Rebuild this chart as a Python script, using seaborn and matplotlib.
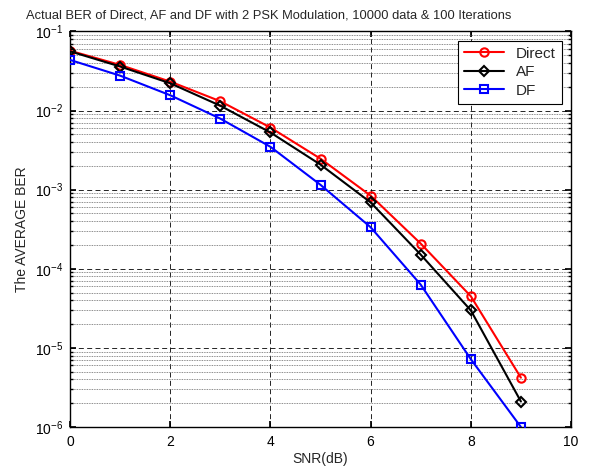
import matplotlib
matplotlib.use("Agg")
import matplotlib.pyplot as plt
import seaborn as sns
import numpy as np
import pandas as pd
from matplotlib.ticker import LogLocator, FixedLocator, NullFormatter

snr = [0, 1, 2, 3, 4, 5, 6, 7, 8, 9]
ber_direct = [0.057, 0.0377, 0.0232, 0.0131, 0.0061, 0.00246, 0.00084, 0.000208, 4.5e-5, 4.2e-6]
ber_af = [0.056, 0.036, 0.0221, 0.0115, 0.00528, 0.00207, 0.00069, 0.000151, 2.98e-5, 2.1e-6]
ber_df = [0.0436, 0.0276, 0.0156, 0.0079, 0.00348, 0.00115, 0.000335, 6.3e-5, 7.2e-6, 1.0e-6]
series_names = ["Direct", "AF", "DF"]
series_colors = ["#ff0000", "#000000", "#0000ff"]
series_markers = ["o", "D", "s"]
title = "Actual BER of Direct, AF and DF with 2 PSK Modulation, 10000 data & 100 Iterations"
xlabel = "SNR(dB)"
ylabel = "The AVERAGE BER"

sns.set_theme(style="ticks")
plt.rcParams["font.family"] = ["Liberation Sans", "DejaVu Sans"]
plt.rcParams["mathtext.default"] = "regular"
plt.rcParams["mathtext.fontset"] = "custom"
plt.rcParams["mathtext.rm"] = "Liberation Sans"

fig = plt.figure(figsize=(6.07, 4.69), dpi=100)
ax = fig.add_axes([70/607, 42/469, 501/607, 395.6/469])

data = [ber_direct, ber_af, ber_df]
for name, vals, c, m in zip(series_names, data, series_colors, series_markers):
    df = pd.DataFrame({"SNR": snr, "BER": vals})
    ms = 6 if m != "D" else 5
    sns.lineplot(data=df, x="SNR", y="BER", ax=ax, color=c, marker=m,
                 markersize=ms, markerfacecolor="none", markeredgecolor=c,
                 markeredgewidth=1.5, linewidth=1.5, label=name, zorder=3)

ax.set_yscale("log")
ax.set_xlim(0, 10)
ax.set_ylim(1e-6, 1e-1)
ax.xaxis.set_major_locator(FixedLocator([0, 2, 4, 6, 8, 10]))
ax.yaxis.set_major_locator(LogLocator(base=10, numticks=10))
ax.yaxis.set_minor_locator(LogLocator(base=10, subs=np.arange(2, 10), numticks=10))
ax.yaxis.set_minor_formatter(NullFormatter())

ax.grid(True, which="major", axis="both", color="black", linestyle=(0, (6, 4)), linewidth=0.6, zorder=0)
ax.grid(True, which="minor", axis="y", color="#666666", linestyle=(0, (1, 1)), linewidth=0.6, zorder=0)
ax.set_axisbelow(True)

ax.tick_params(which="both", direction="in", top=True, right=True, labelsize=10, colors="black")
ax.tick_params(which="major", length=4)
ax.tick_params(which="minor", length=2)
ax.tick_params(axis="x", which="major", pad=6)
ax.tick_params(axis="y", which="major", pad=5)
for s in ax.spines.values():
    s.set_visible(True)
    s.set_color("black")
    s.set_linewidth(1.0)

fig.text(269/607, 1 - 15/469, title, fontsize=9.3, ha="center", va="center")
ax.set_xlabel(xlabel, fontsize=10, labelpad=2)
ax.set_ylabel(ylabel, fontsize=10, labelpad=4)

leg = ax.legend(loc="upper right", fontsize=11, frameon=True, fancybox=False,
                edgecolor="black", framealpha=1, borderpad=0.4, handlelength=2.6,
                labelspacing=0.3, borderaxespad=0.6)
leg.get_frame().set_linewidth(0.8)

fig.savefig("out.png", dpi=100)
